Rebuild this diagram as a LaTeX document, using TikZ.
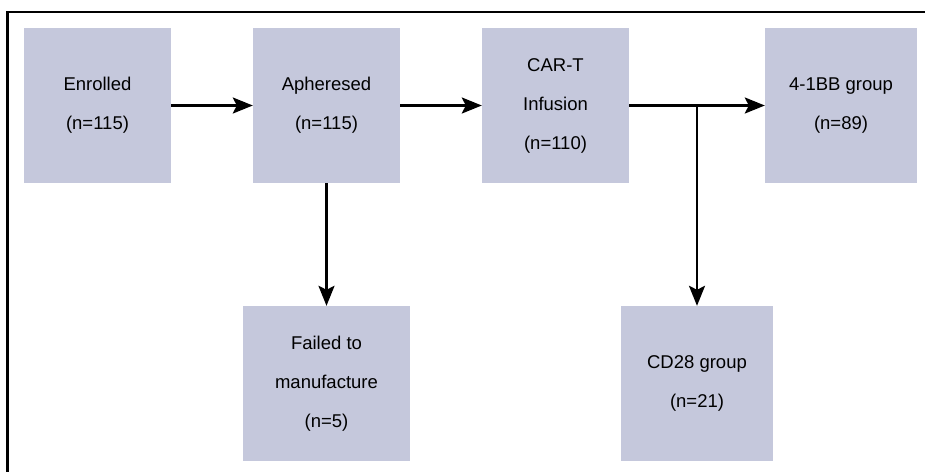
\documentclass[tikz,border=0pt]{standalone}
\usepackage{fontspec}
\setmainfont{Liberation Sans}
\usetikzlibrary{arrows.meta}
\definecolor{boxfill}{RGB}{197,200,220}
\begin{document}
\begin{tikzpicture}[x=1pt,y=-1pt,
  box/.style={fill=boxfill,draw=none,inner sep=0pt,align=center,
    font=\fontsize{18.5}{39}\selectfont},
  conn/.style={line width=2.4pt,-{Stealth[length=20pt,width=16pt,inset=4pt]}}]
\useasboundingbox (0,0) rectangle (925,471);
\draw[line width=2.5pt] (7.5,475) -- (7.5,12) -- (930,12);
\node[box,minimum width=147pt,minimum height=155pt] (enr) at (97.5,105.5) {Enrolled\\(n=115)};
\node[box,minimum width=147pt,minimum height=155pt] (aph) at (326.5,105.5) {Apheresed\\(n=115)};
\node[box,minimum width=147pt,minimum height=155pt] (car) at (555.5,105.5) {CAR-T\\Infusion\\(n=110)};
\node[box,minimum width=152pt,minimum height=155pt] (bb) at (841,105.5) {4-1BB group\\(n=89)};
\node[box,minimum width=167pt,minimum height=155pt] (fail) at (326.5,383.5) {Failed to\\manufacture\\(n=5)};
\node[box,minimum width=152pt,minimum height=155pt] (cd) at (697,383.5) {CD28 group\\(n=21)};
\coordinate (br) at (697,105.5);
\draw[conn] (enr.east) -- (aph.west);
\draw[conn] (aph.east) -- (car.west);
\draw[conn] (car.east) -- (bb.west);
\draw[conn] (aph.south) -- (fail.north);
\draw[conn] (br) -- (cd.north);
\end{tikzpicture}
\end{document}
